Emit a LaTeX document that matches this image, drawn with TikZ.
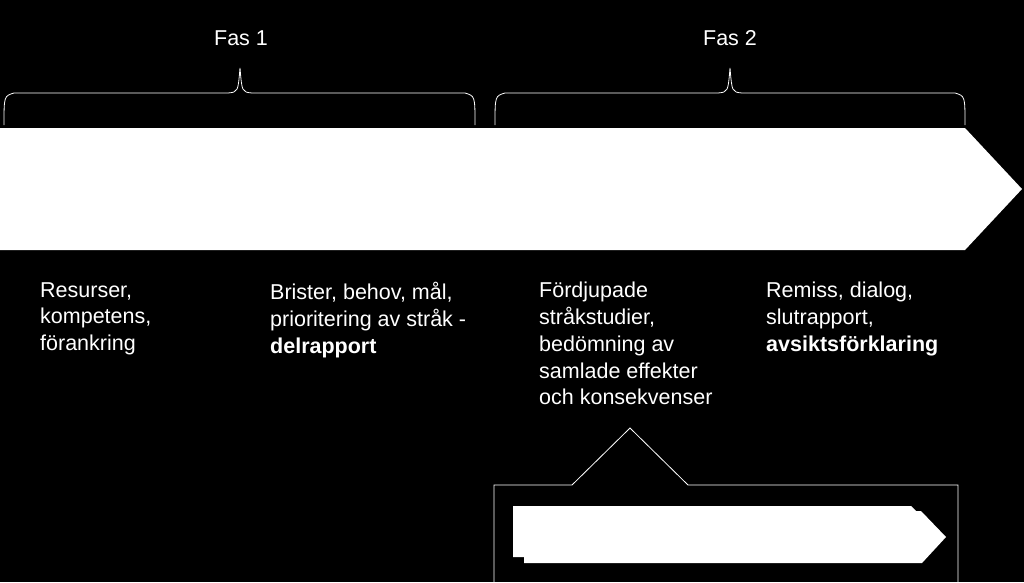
\documentclass[tikz,border=0pt]{standalone}
\usepackage{fontspec}
\setmainfont{Liberation Sans}
\begin{document}
\begin{tikzpicture}[x=1pt,y=-1pt,
  lbl/.style={text=white,font=\fontsize{21.5}{26.8}\selectfont,align=left,anchor=north west,inner sep=0pt},
  br/.style={draw=white,line width=0.8pt}]
\fill[black] (0,0) rectangle (1024,582);
\useasboundingbox (0,0) rectangle (1024,582);
% main arrow
\fill[white] (0,128) -- (965,128) -- (1022,189) -- (965,250) -- (0,250) -- cycle;
% braces
\draw[br] (4,125) .. controls (4,96) .. (14,93) -- (228,93) .. controls (238,92) .. (240,68)
  .. controls (242,92) .. (252,93) -- (465,93) .. controls (475,96) .. (475,125);
\draw[br] (495,125) .. controls (495,96) .. (505,93) -- (718,93) .. controls (728,92) .. (730,68)
  .. controls (732,92) .. (742,93) -- (955,93) .. controls (965,96) .. (965,125);
\node[text=white,font=\fontsize{21.5}{26}\selectfont] (f1) at (241,38) {Fas 1};
\node[text=white,font=\fontsize{21.5}{26}\selectfont] (f2) at (730,38) {Fas 2};
% labels
\node[lbl] (t1) at (40,282) {Resurser,\\kompetens,\\förankring};
\node[lbl] (t2) at (270,282) {Brister, behov, mål,\\prioritering av stråk -\\\textbf{delrapport}};
\node[lbl] (t3) at (539,282) {Fördjupade\\stråkstudier,\\bedömning av\\samlade effekter\\och konsekvenser};
\node[lbl] (t4) at (766,282) {Remiss, dialog,\\slutrapport,\\\textbf{avsiktsförklaring}};
% callout
\draw[white,line width=0.8pt] (494,582) -- (494,485) -- (572,485) -- (630,428) -- (688,485) -- (958,485) -- (958,582);
\fill[white] (513,506) -- (911,506) -- (916,511) -- (921,511) -- (946,537) -- (922,563) -- (524,563) -- (524,557) -- (513,557) -- cycle;
\end{tikzpicture}
\end{document}
